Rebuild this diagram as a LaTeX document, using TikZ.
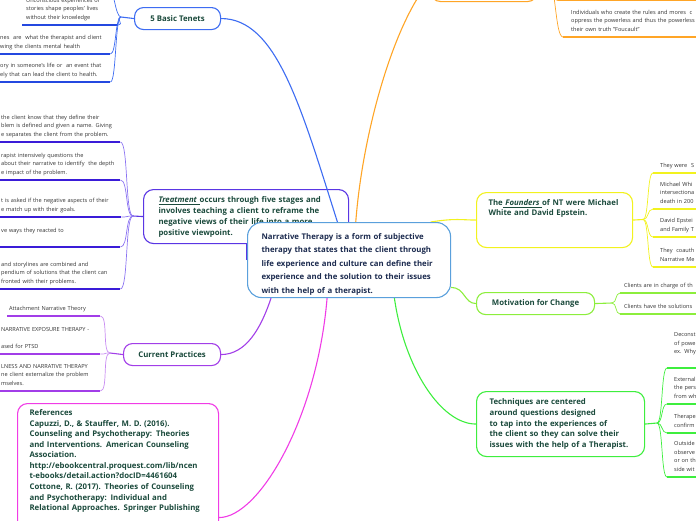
\documentclass[tikz,border=0pt]{standalone}
\usepackage{fontspec}
\setmainfont{Open Sans}
\definecolor{rootblue}{HTML}{5AA0DC}
\definecolor{rootnavy}{HTML}{1C2B4F}
\definecolor{topicgreen}{HTML}{1B4A3C}
\definecolor{leafgray}{HTML}{333333}
\definecolor{tenetblue}{HTML}{3D6CF2}
\definecolor{tenetdark}{HTML}{2448E0}
\definecolor{treatviolet}{HTML}{5A36E4}
\definecolor{treatdark}{HTML}{3A1CD8}
\definecolor{treatlight}{HTML}{8C74F2}
\definecolor{practpurple}{HTML}{A23EE8}
\definecolor{practlight}{HTML}{C88CF2}
\definecolor{refmagenta}{HTML}{F03CE6}
\definecolor{branchorange}{HTML}{FFA526}
\definecolor{branchyellow}{HTML}{F2F21E}
\definecolor{branchlime}{HTML}{8CEE3C}
\definecolor{branchgreen}{HTML}{3EEE3E}
\newcommand\topicfont[1]{\fontsize{7.8}{#1}\selectfont\bfseries}
\newcommand\leaffont{\fontsize{5.6}{8.5}\selectfont}
\pgfdeclarelayer{front}
\pgfsetlayers{main,front}
\tikzset{
  topic/.style={draw, line width=1.1pt, rounded corners=10pt, fill=white,
    text=topicgreen, font=\topicfont{11}, align=left, inner xsep=14pt, inner ysep=0pt,
    anchor=north west},
  pill/.style={topic, align=center, inner xsep=0pt, rounded corners=9pt, minimum height=22pt},
  leaf/.style={text=leafgray, font=\leaffont, align=left, inner xsep=2pt, inner ysep=3pt,
    anchor=south west, execute at end node=\strut},
  uline/.style={append after command={(\tikzlastnode.south west)
    edge[line width=1.4pt, draw=#1] (\tikzlastnode.south east)}},
  branch/.style={line width=1.1pt, draw=#1},
  twig/.style={line width=0.7pt, draw=#1}
}
\begin{document}
\begin{tikzpicture}[x=1pt,y=-1pt]
  \useasboundingbox (0,0) rectangle (696,520);
  \clip (0,0) rectangle (696,520);

  % central topic, on top of everything
  \begin{pgfonlayer}{front}
  \node[topic, draw=rootblue, text=rootnavy, rounded corners=14pt, font=\topicfont{13.5},
    text width=175pt, text height=16.5pt, text depth=58.5pt]
    (root) at (247,222) {Narrative Therapy is a form of subjective\\therapy that states that the client through\\life experience and culture can define their\\experience and the solution to their issues\\with the help of a therapist.};
  \end{pgfonlayer}

  % main topics
  \node[pill, draw=tenetblue, minimum width=86pt] (tenets) at (134,7) {5 Basic Tenets};
  \node[topic, draw=treatviolet, text width=175pt, inner xsep=15pt, text height=13pt, text depth=41pt]
    (treat) at (143,189) {\underline{\textit{Treatment} }occurs through five stages and\\involves teaching a client to reframe the\\negative views of their life into a more\\positive viewpoint.};
  \node[pill, draw=practpurple, minimum width=97pt] (pract) at (123,343) {Current Practices};
  \node[topic, draw=refmagenta, text width=177pt, inner xsep=12pt, font=\topicfont{10.56},
    text height=12pt, text depth=216pt]
    (refs) at (17,403) {References\\Capuzzi, D., \& Stauffer, M. D. (2016).\\Counseling and Psychotherapy: Theories\\and Interventions. American Counseling\\Association.\\http://ebookcentral.proquest.com/lib/ncen\\t-ebooks/detail.action?docID=4461604\\Cottone, R. (2017). Theories of Counseling\\and Psychotherapy: Individual and\\Relational Approaches. Springer Publishing};
  \node[topic, draw=branchorange, minimum width=107pt, minimum height=41pt] (orangetop) at (430,-40) {};
  \node[topic, draw=branchyellow, text width=132pt, inner xsep=12pt, font=\topicfont{10.2},
    text height=13pt, text depth=42pt]
    (founders) at (476,192) {The\underline{ \textit{Founders} }of NT were Michael\\White and David Epstein.};
  \node[pill, draw=branchlime, minimum width=118pt] (motiv) at (476,292) {Motivation for Change};
  \node[topic, draw=branchgreen, text width=142pt, inner xsep=13pt, font=\topicfont{10.75},
    text height=13pt, text depth=52pt]
    (tech) at (476,391) {Techniques are centered\\around questions designed\\to tap into the experiences of\\the client so they can solve their\\issues with the help of a Therapist.};

  % 5 basic tenets
  \node[leaf, uline=tenetdark, text width=88pt, inner xsep=4pt] (tenetA) at (22,25)
    {Unconscious experiences or\\stories shape peoples' lives\\without their knowledge};
  \node[leaf, uline=tenetdark, text width=108pt] (tenetB) at (-2,54)
    {nes\ \ are\ \ what the therapist and client\\wing the clients mental health};
  \node[leaf, uline=tenetdark, text width=108pt] (tenetC) at (-2,82)
    {ory in someone's life or\ \ an event that\\ely that can lead the client to health.};
  \coordinate (tenetUp) at (108,-14);
  \coordinate (tenetJ) at (121,17);

  % treatment stages
  \node[leaf, uline=treatdark, text width=117pt] (treatA) at (-1,142)
    {the client know that they define their\\blem is defined and given a name. Giving\\e separates the client from the problem.};
  \node[leaf, uline=treatdark, text width=117pt] (treatB) at (-1,180)
    {rapist intensively questions the\\about their narrative to identify\ \ the depth\\e impact of the problem.};
  \node[leaf, uline=treatdark, text width=118pt] (treatC) at (-1,217)
    {t is asked if the negative aspects of their\\e match up with their goals.};
  \node[leaf, uline=treatdark, text width=117pt] (treatD) at (-1,247)
    {ve ways they reacted to\\\mbox{}};
  \node[leaf, uline=treatdark, text width=117pt] (treatE) at (-1,289)
    {and storylines are combined and\\pendium of solutions that the client can\\fronted with their problems.};
  \coordinate (treatJ) at (133,216);

  % current practices
  \node[leaf, uline=practpurple, text width=89pt] (practA) at (7,316) {Attachment Narrative Theory};
  \node[leaf, uline=practpurple, text width=97pt] (practB) at (-1,354)
    {NARRATIVE EXPOSURE THERAPY -\\\mbox{}\\ased for PTSD};
  \node[leaf, uline=practpurple, text width=97pt] (practC) at (-1,391)
    {LNESS AND NARRATIVE THERAPY\\ne client externalize the problem\\mselves.};
  \coordinate (practJ) at (110,353);

  % orange branch
  \node[leaf, uline=branchorange, text width=150pt] (orangeUp) at (558,0.5) {};
  \node[leaf, uline=branchorange, text width=200pt, inner xsep=8pt] (orangeA) at (563,37)
    {Individuals who create the rules and mores\ \ c\\oppress the powerless and thus the powerless\\their own truth "Foucault"};
  \coordinate (orangeJ) at (548,-19.5);

  % founders
  \node[leaf, uline=branchyellow, text width=60pt, inner xsep=7pt] (founderA) at (653,173) {They were\ \ S};
  \node[leaf, uline=branchyellow, text width=60pt, inner xsep=7pt] (founderB) at (653,209)
    {Michael Whi\\intersectiona\\death in 200};
  \node[leaf, uline=branchyellow, text width=60pt, inner xsep=7pt] (founderC) at (653,237)
    {David Epstei\\and Family T};
  \node[leaf, uline=branchyellow, text width=60pt, inner xsep=7pt] (founderD) at (653,267)
    {They\ \ coauth\\Narrative Me};
  \coordinate (foundJ) at (643,219.5);

  % motivation
  \node[leaf, uline=branchlime, text width=100pt, inner xsep=4pt] (motivA) at (620,293) {Clients are in charge of th};
  \node[leaf, uline=branchlime, text width=100pt, inner xsep=4pt] (motivB) at (620,314) {Clients have the solutions};
  \coordinate (motivJ) at (612,303);

  % techniques
  \node[leaf, uline=branchgreen, text width=40pt, inner xsep=7pt] (techA) at (667,368)
    {Deconst\\of powe\\ex. Why\\\mbox{}};
  \node[leaf, uline=branchgreen, text width=40pt, inner xsep=7pt] (techB) at (667,404)
    {Externali\\the pers\\from wh};
  \node[leaf, uline=branchgreen, text width=40pt, inner xsep=7pt] (techC) at (667,433)
    {Therape\\confirm};
  \node[leaf, uline=branchgreen, text width=40pt, inner xsep=7pt] (techD) at (667,477)
    {Outside\\observe\\or on th\\side wit};
  \coordinate (techJ) at (657,423);

  % connectors from the centre
  \draw[branch=treatviolet] (root.west) -- (root.west |- treat.south);
  \draw[branch=tenetblue] (root.107) .. controls +(-37,-117) and +(55,0) .. (tenets.east);
  \draw[branch=branchorange] (root.80) .. controls +(7,-92) and +(-35,39.5) .. (orangetop.west);
  \draw[branch=branchyellow] (root.25) .. controls +(25,-4) and +(-14,0) .. (founders.west);
  \draw[branch=branchlime] (root.-15) .. controls +(14,0) and +(-12,0) .. (motiv.west);
  \draw[branch=branchgreen] (root.-40) .. controls +(10,70) and +(-35,0) .. (tech.west);
  \draw[branch=practpurple] (root.-154) .. controls +(-10,30) and +(25,0) .. (pract.east);
  \draw[branch=refmagenta] (root.-120) .. controls +(-10,120) and +(40,0) .. (refs.east);

  % connectors to the subtopics
  \draw[branch=tenetblue] (tenets.west) -- (tenetJ);
  \foreach \n in {tenetA,tenetB,tenetC}
    \draw[twig=tenetblue] (tenetJ) .. controls +(-6,0) and +(6,0) .. (\n.south east);
  \draw[twig=tenetblue] (tenetJ) .. controls +(-6,0) and +(6,0) .. (tenetUp);

  \draw[branch=treatviolet] (treat.west) -- (treatJ);
  \foreach \n in {treatA,treatB,treatC,treatD,treatE}
    \draw[twig=treatlight] (treatJ) .. controls +(-8,0) and +(8,0) .. (\n.south east);

  \draw[branch=practpurple] (pract.west) -- (practJ);
  \foreach \n in {practA,practB,practC}
    \draw[twig=practlight] (practJ) .. controls +(-8,0) and +(8,0) .. (\n.south east);

  \draw[branch=branchorange] (orangetop.east) -- (orangeJ);
  \foreach \n in {orangeUp,orangeA}
    \draw[twig=branchorange] (orangeJ) .. controls +(8,0) and +(-8,0) .. (\n.south west);

  \draw[branch=branchyellow] (founders.east) -- (foundJ);
  \foreach \n in {founderA,founderB,founderC,founderD}
    \draw[twig=branchyellow] (foundJ) .. controls +(6,0) and +(-6,0) .. (\n.south west);

  \draw[branch=branchlime] (motiv.east) -- (motivJ);
  \foreach \n in {motivA,motivB}
    \draw[twig=branchlime] (motivJ) .. controls +(5,0) and +(-5,0) .. (\n.south west);

  \draw[branch=branchgreen] (tech.east) -- (techJ);
  \foreach \n in {techA,techB,techC,techD}
    \draw[twig=branchgreen] (techJ) .. controls +(6,0) and +(-6,0) .. (\n.south west);
\end{tikzpicture}
\end{document}
